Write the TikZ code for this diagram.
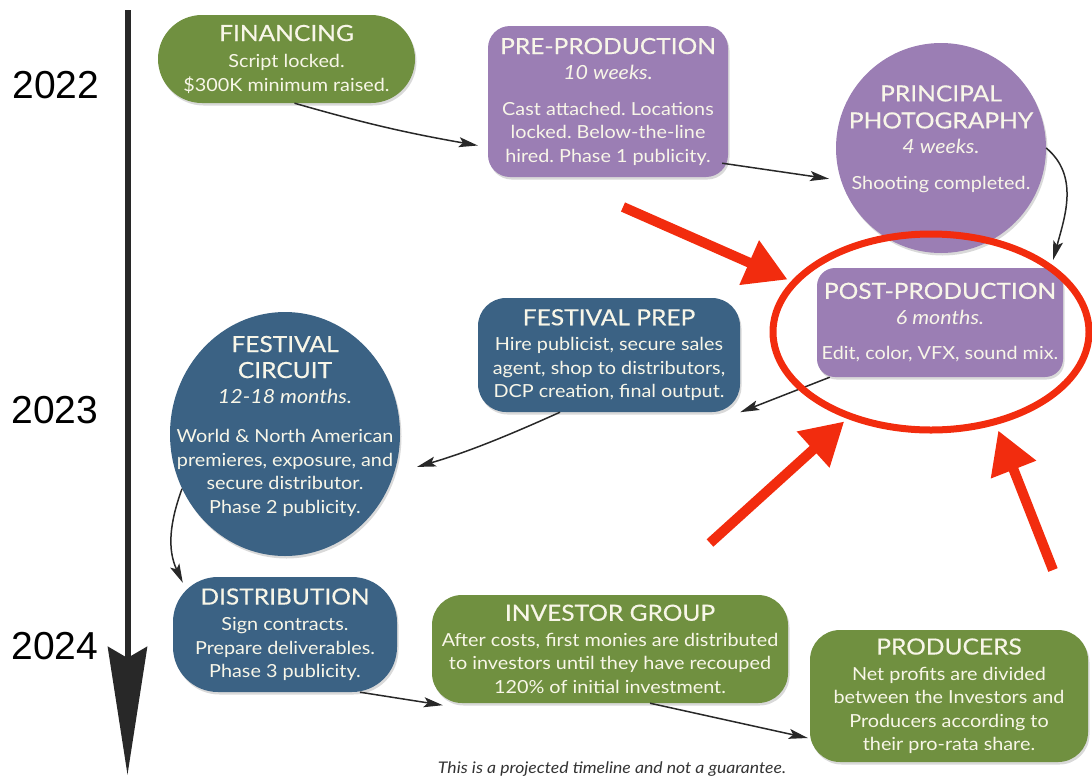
\documentclass[tikz,border=0pt]{standalone}
\usepackage{fontspec}
\setmainfont[FakeStretch=1.1]{Lato}
\newfontfamily\titlefont[FakeStretch=1.1,FakeBold=0.4]{Lato}
\newfontfamily\yearfont{Liberation Sans}
\usetikzlibrary{arrows.meta,shapes.geometric,shadows}
\frenchspacing

\definecolor{fingreen}{RGB}{112,144,64}
\definecolor{prodpurple}{RGB}{155,126,180}
\definecolor{festblue}{RGB}{59,98,132}
\definecolor{boxtext}{RGB}{248,246,232}
\definecolor{markred}{RGB}{242,44,14}
\definecolor{linegray}{RGB}{40,40,40}

\newcommand{\hd}[1]{{\titlefont\fontsize{22.3}{27}\selectfont #1}}
\newcommand{\dur}[1]{{\itshape\fontsize{19.5}{23.5}\selectfont #1}}

\tikzset{
  stage/.style={rounded corners=22pt, inner sep=0pt, text=boxtext, align=center,
    font=\fontsize{18}{23.5}\selectfont,
    drop shadow={opacity=0.3,shadow xshift=1.5pt,shadow yshift=-2.5pt}},
  stagetext/.style={inner sep=0pt, text=boxtext, align=center, font=\fontsize{18}{23.5}\selectfont},
  flow/.style={-{Stealth[length=19pt,width=10pt,inset=4pt]}, line width=1.5pt, draw=linegray},
  callout/.style={-{Triangle[length=42pt,width=46pt]}, line width=10pt, draw=markred},
  year/.style={font=\yearfont\fontsize{39}{39}\selectfont}
}

\begin{document}
\begin{tikzpicture}[x=1pt,y=1pt]
	\useasboundingbox (0,0) rectangle (1092,-777);

	\coordinate (tl-top) at (127.5,-10);
	\coordinate (tl-end) at (127.5,-775);
	\draw [line width=6pt, draw=linegray, -{Stealth[length=128pt,width=39pt,inset=11pt]}] (tl-top) -- (tl-end);

	\node[year] (y22) at (56,-85) {2022};
	\node[year] (y23) at (55,-410) {2023};
	\node[year] (y24) at (55,-646) {2024};

	\node[stage, fill=fingreen, rounded corners=44pt, minimum width=257pt, minimum height=88pt] (fin) at (286.5,-59)
		{\hd{FINANCING}\\[3pt]Script locked.\\\$300K minimum raised.};
	\node[stage, fill=prodpurple, minimum width=240pt, minimum height=151pt] (pre) at (608,-101.5)
		{\hd{PRE-PRODUCTION}\\[2pt]\dur{10 weeks.}\\[12pt]Cast attached. Locations\\locked. Below-the-line\\hired. Phase 1 publicity.};
	\node[stage, circle, fill=prodpurple, minimum size=210pt] (pp) at (941,-148) {};
	\node[stagetext] (pp-text) at (941,-139)
		{\hd{PRINCIPAL}\\[3.5pt]\hd{PHOTOGRAPHY}\\[2pt]\dur{4 weeks.}\\[12pt]Shooting completed.};
	\node[stage, fill=prodpurple, rounded corners=18pt, minimum width=246pt, minimum height=109pt] (post) at (940,-322.5)
		{\hd{POST-PRODUCTION}\\[2pt]\dur{6 months.}\\[12pt]Edit, color, VFX, sound mix.};
	\node[stage, fill=festblue, rounded corners=28pt, minimum width=262pt, minimum height=114pt] (fprep) at (609,-355)
		{\hd{FESTIVAL PREP}\\[2pt]Hire publicist, secure sales\\agent, shop to distributors,\\DCP creation, final output.};
	\node[stage, ellipse, fill=festblue, minimum width=230pt, minimum height=244pt] (fcirc) at (285,-434) {};
	\node[stagetext] (fcirc-text) at (285,-426)
		{\hd{FESTIVAL}\\[2.5pt]\hd{CIRCUIT}\\[1.5pt]\dur{12-18 months.}\\[16pt]World \& North American\\premieres, exposure, and\\secure distributor.\\Phase 2 publicity.};
	\node[stage, fill=festblue, rounded corners=45pt, minimum width=224pt, minimum height=115pt] (dist) at (285,-634.5)
		{\hd{DISTRIBUTION}\\[2.5pt]Sign contracts.\\Prepare deliverables.\\Phase 3 publicity.};
	\node[stage, fill=fingreen, rounded corners=30pt, minimum width=356pt, minimum height=108pt] (inv) at (610,-649)
		{\hd{INVESTOR GROUP}\\[2pt]After costs, first monies are distributed\\to investors until they have recouped\\120\% of initial investment.};
	\node[stage, fill=fingreen, rounded corners=30pt, minimum width=278pt, minimum height=132pt] (prod) at (949,-696)
		{\hd{PRODUCERS}\\[2pt]Net profits are divided\\between the Investors and\\Producers according to\\their pro-rata share.};

	\draw [flow] ([xshift=8pt]fin.south) to[bend right=3] ([xshift=-10pt,yshift=-44pt]pre.west);
	\draw [flow, shorten >=12pt] ([xshift=-6pt,yshift=14pt]pre.south east) -- (pp.198);
	\draw [flow] (pp.0) to[out=-40,in=75] ([xshift=-10pt,yshift=8pt]post.north east);
	\draw [flow] ([xshift=13pt]post.south west) -- (fprep.south east);
	\draw [flow, shorten >=24pt] ([xshift=-49pt]fprep.south) to[bend left=4] (fcirc.-20);
	\draw [flow] (fcirc.208) to[out=250,in=115] ([xshift=10pt,yshift=-6pt]dist.north west);
	\draw [flow] ([xshift=75pt]dist.south) -- ([xshift=11pt,yshift=-2pt]inv.south west);
	\draw [flow] ([xshift=40pt]inv.south) -- ([xshift=-2pt,yshift=-42pt]prod.west);

	\node[draw=markred, ellipse, line width=7pt, inner sep=0pt, minimum width=316pt, minimum height=196pt] (ring) at (931,-332) {};
	\coordinate (ca1) at (623,-207);
	\coordinate (ca2) at (710,-543);
	\coordinate (ca3) at (1053,-570);
	\draw [callout, shorten >=4pt] (ca1) -- (ring.160);
	\draw [callout, shorten >=4pt] (ca2) -- (ring.226);
	\draw [callout, shorten >=6pt] (ca3) -- (ring.305);

	\node[font=\itshape\fontsize{16}{16}\selectfont, text=black!80] (note) at (612,-769) {This is a projected timeline and not a guarantee.};
\end{tikzpicture}
\end{document}
